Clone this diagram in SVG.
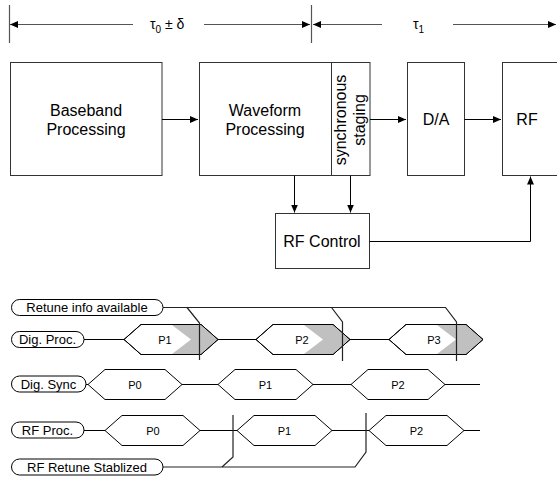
<svg xmlns="http://www.w3.org/2000/svg" width="557" height="477" viewBox="0 0 557 477">
<defs>
<marker id="ah" markerWidth="8" markerHeight="8" refX="8" refY="4" orient="auto" markerUnits="userSpaceOnUse"><path d="M0,0.5 L8,4 L0,7.5 Z" fill="#000"/></marker>
<style>
.box{fill:#fff;stroke:#333;stroke-width:1}
.t16{font-family:"Liberation Sans",Arial,sans-serif;font-size:16px;fill:#000;text-anchor:middle}
.t13{font-family:"Liberation Sans",Arial,sans-serif;font-size:13px;fill:#000;text-anchor:middle}
.t11{font-family:"Liberation Sans",Arial,sans-serif;font-size:11px;fill:#000;text-anchor:middle}
.tau{font-family:"Liberation Sans",Arial,sans-serif;font-size:14px;fill:#000}
.con{fill:none;stroke:#000;stroke-width:1}
.dim{fill:none;stroke:#555;stroke-width:1.2}
.pill{fill:#fff;stroke:#000;stroke-width:1}
.hex{fill:#fff;stroke:#000;stroke-width:1}
.gray{fill:#c0c0c0;stroke:none}
.tl{fill:none;stroke:#000;stroke-width:1}
.rt{fill:none;stroke:#222;stroke-width:1.2}
</style>
</defs>

<g id="timescale">
<path class="dim" d="M9.5,5 V43 M311.5,5 V43"/>
<path class="dim" d="M133,24.5 H10" marker-end="url(#ah)"/>
<path class="dim" d="M204,24.5 H310" marker-end="url(#ah)"/>
<path class="dim" d="M382,24.5 H313" marker-end="url(#ah)"/>
<path class="dim" d="M453,24.5 H556" marker-end="url(#ah)"/>
<text class="tau" x="150" y="29">τ<tspan font-size="10" dy="4">0</tspan><tspan dy="-4"> ± δ</tspan></text>
<text class="tau" x="413" y="29">τ<tspan font-size="10" dy="4">1</tspan></text>
</g>

<g id="baseband">
<rect class="box" x="10.5" y="62.5" width="151.5" height="113"/>
<text class="t16" x="86" y="116">Baseband</text>
<text class="t16" x="86" y="134.5">Processing</text>
</g>

<g id="waveform">
<rect class="box" x="199.5" y="62.5" width="132" height="113"/>
<text class="t16" x="265" y="116">Waveform</text>
<text class="t16" x="265" y="134.5">Processing</text>
</g>

<g id="sync">
<rect class="box" x="331.5" y="62.5" width="38.5" height="113"/>
<text class="t16" transform="translate(346,120) rotate(-90)" x="0" y="0">synchronous</text>
<text class="t16" transform="translate(365,120) rotate(-90)" x="0" y="0">staging</text>
</g>

<g id="da">
<rect class="box" x="407.5" y="62.5" width="57" height="113"/>
<text class="t16" x="436" y="125">D/A</text>
</g>

<g id="rf">
<rect class="box" x="502.5" y="62.5" width="60" height="113"/>
<text class="t16" x="527" y="125">RF</text>
</g>

<g id="rfcontrol">
<rect class="box" x="275.5" y="213.5" width="94" height="55"/>
<text class="t16" x="322" y="247">RF Control</text>
</g>

<g id="connectors">
<path class="con" d="M162,119.5 H198" marker-end="url(#ah)"/>
<path class="con" d="M370,119.5 H406" marker-end="url(#ah)"/>
<path class="con" d="M464.5,119.5 H501" marker-end="url(#ah)"/>
<path class="con" d="M294.5,175.5 V212.5" marker-end="url(#ah)"/>
<path class="con" d="M350.5,175.5 V212.5" marker-end="url(#ah)"/>
<path class="con" d="M369.5,241.5 H530.5 V176.5" marker-end="url(#ah)"/>
</g>

<g id="timing">
<g id="labels">
<rect class="pill" x="11.5" y="299.5" width="151.5" height="16" rx="8"/>
<text class="t13" x="87" y="312">Retune info available</text>
<rect class="pill" x="11.5" y="331.5" width="72.5" height="16" rx="8"/>
<text class="t13" x="47.5" y="344">Dig. Proc.</text>
<rect class="pill" x="11.5" y="376" width="74.5" height="16" rx="8"/>
<text class="t13" x="48.5" y="388.5">Dig. Sync</text>
<rect class="pill" x="11.5" y="422" width="72.5" height="16" rx="8"/>
<text class="t13" x="47.5" y="434.5">RF Proc.</text>
<rect class="pill" x="11.5" y="459" width="151.5" height="16" rx="8"/>
<text class="t13" x="87" y="471.5">RF Retune Stablized</text>
</g>

<g id="digproc">
<path class="tl" d="M84,339.5 H124 M218,339.5 H256 M350,339.5 H389"/>
<polygon class="hex" points="124,339.5 141,324.5 201,324.5 218,339.5 201,354.5 141,354.5"/>
<polygon class="gray" points="172,325 201,325 217.5,339.5 201,354 172,354 191,339.5"/>
<polygon class="hex" fill="none" style="fill:none" points="124,339.5 141,324.5 201,324.5 218,339.5 201,354.5 141,354.5"/>
<text class="t11" x="165" y="343.5">P1</text>
<polygon class="hex" points="256,339.5 273,324.5 333,324.5 350,339.5 333,354.5 273,354.5"/>
<polygon class="gray" points="304,325 333,325 349.5,339.5 333,354 304,354 323,339.5"/>
<polygon style="fill:none;stroke:#000" points="256,339.5 273,324.5 333,324.5 350,339.5 333,354.5 273,354.5"/>
<text class="t11" x="302" y="343.5">P2</text>
<polygon class="hex" points="389,339.5 406,324.5 466,324.5 483,339.5 466,354.5 406,354.5"/>
<polygon class="gray" points="437,325 466,325 482.5,339.5 466,354 437,354 456,339.5"/>
<polygon style="fill:none;stroke:#000" points="389,339.5 406,324.5 466,324.5 483,339.5 466,354.5 406,354.5"/>
<text class="t11" x="434" y="343.5">P3</text>
</g>

<g id="digsync">
<path class="tl" d="M86,384.5 H88 M182,384.5 H218 M313,384.5 H351 M445,384.5 H480"/>
<polygon class="hex" points="88,384.5 105,369.5 165,369.5 182,384.5 165,399.5 105,399.5"/>
<text class="t11" x="135" y="388.5">P0</text>
<polygon class="hex" points="218,384.5 235,369.5 296,369.5 313,384.5 296,399.5 235,399.5"/>
<text class="t11" x="265.5" y="388.5">P1</text>
<polygon class="hex" points="351,384.5 368,369.5 428,369.5 445,384.5 428,399.5 368,399.5"/>
<text class="t11" x="398" y="388.5">P2</text>
</g>

<g id="rfproc">
<path class="tl" d="M84,430.5 H105 M200,430.5 H237 M332,430.5 H369 M464,430.5 H480"/>
<polygon class="hex" points="105,430.5 122,415.5 183,415.5 200,430.5 183,445.5 122,445.5"/>
<text class="t11" x="153" y="434.5">P0</text>
<polygon class="hex" points="237,430.5 254,415.5 315,415.5 332,430.5 315,445.5 254,445.5"/>
<text class="t11" x="284.5" y="434.5">P1</text>
<polygon class="hex" points="369,430.5 386,415.5 447,415.5 464,430.5 447,445.5 386,445.5"/>
<text class="t11" x="416.5" y="434.5">P2</text>
</g>

<g id="retune">
<path class="rt" d="M163,307.5 H445.5 L456.5,322 V361"/>
<path class="rt" d="M187,307.5 L199.5,323 V360"/>
<path class="rt" d="M331.5,307.5 L342.5,322 V361"/>
<path class="rt" d="M163,467 H355 L366,452 V413"/>
<path class="rt" d="M222,467 L233,457 V415"/>
</g>
</g>
</svg>
